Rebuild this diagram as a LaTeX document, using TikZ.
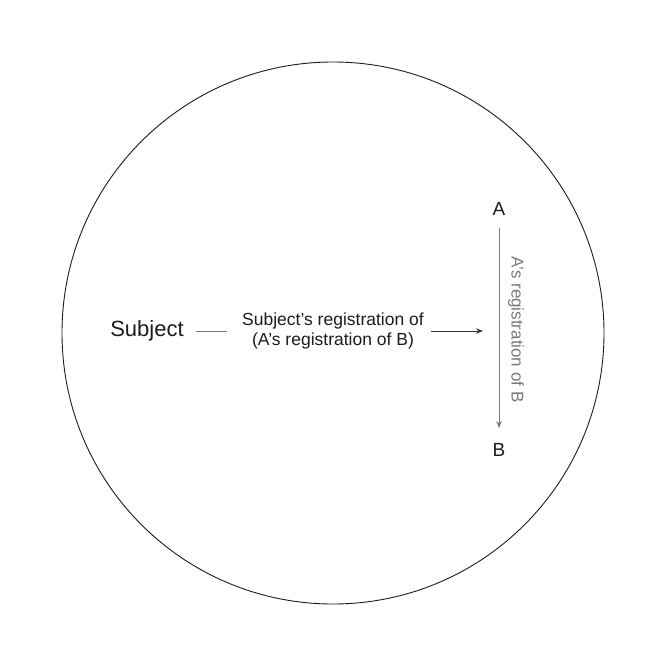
\documentclass[tikz,border=0pt]{standalone}
\usepackage{fontspec}
\setmainfont{Liberation Sans}
\usetikzlibrary{arrows.meta}
\definecolor{ink}{HTML}{1C1C1C}
\definecolor{dim}{HTML}{7A7A7A}
\tikzset{word/.style={inner sep=0pt, text=ink}, gloss/.style={inner sep=0pt, text=dim, font=\fontsize{17}{20}\selectfont}}

\begin{document}
\begin{tikzpicture}[x=1pt, y=-1pt, line width=0.9pt, -{Stealth[length=7pt,width=5.5pt]}]
			\useasboundingbox (0,0) rectangle (664,664);
			\draw[-, ink] (333,333) circle[radius=271];
			\node[word, font=\fontsize{22}{26}\selectfont] (subj) at (147,331) {Subject};
			\node[word, align=center, font=\fontsize{17.5}{20.5}\selectfont] (reg) at (333,331) {Subject’s registration of\\(A’s registration of B)};
			\node[word, font=\fontsize{19}{22}\selectfont] (a) at (499,209) {A};
			\node[word, font=\fontsize{19}{22}\selectfont] (b) at (499,450) {B};
			\draw[-, dim, shorten <=12pt, shorten >=15pt] (subj.east) -- (reg.west);
			\draw[ink!90, shorten <=7pt, shorten >=16pt] (reg.east) -- (reg.east -| a);
			\draw[dim, shorten <=12pt, shorten >=15pt] (a.south) -- (b.north)
				node[gloss, midway, xshift=17pt, rotate=-90]{A’s registration of B};
		\end{tikzpicture}
\end{document}
